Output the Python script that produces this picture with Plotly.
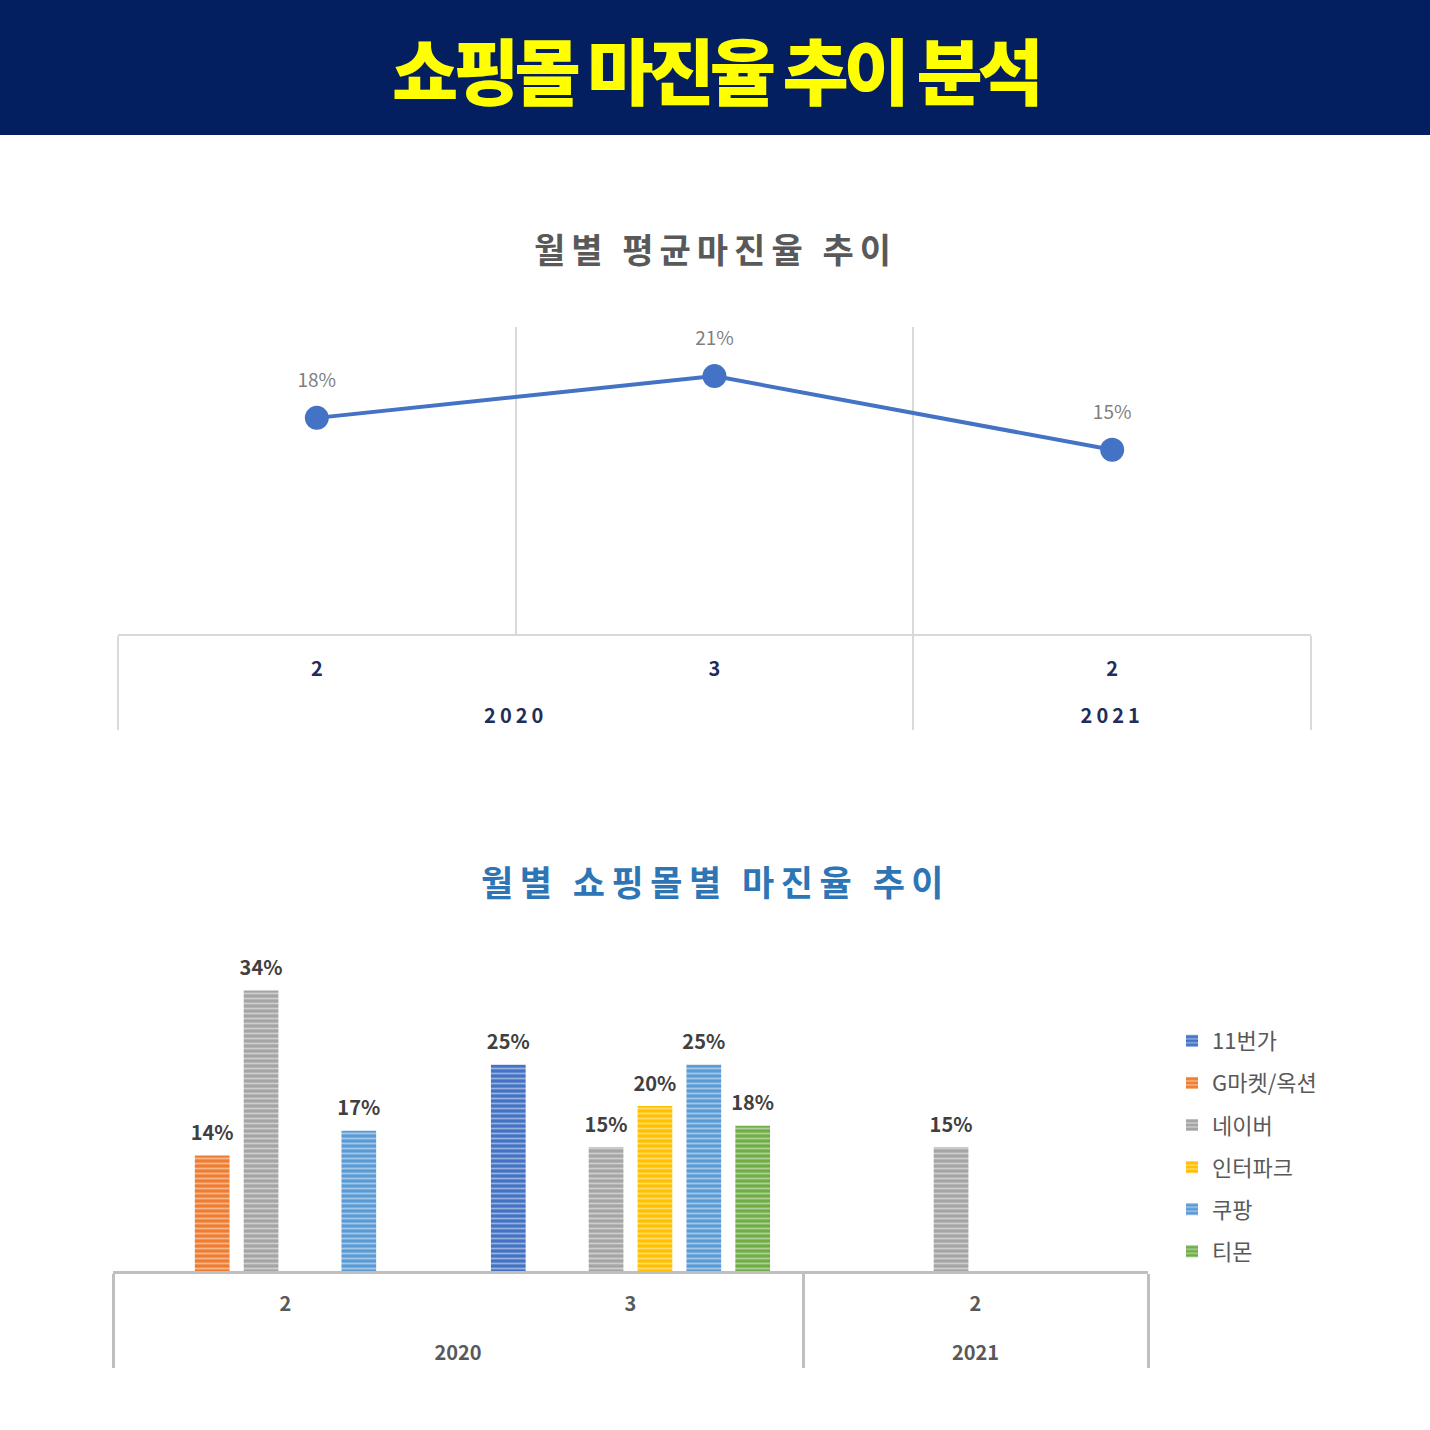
import plotly.graph_objects as go

# 데이터
years = ["2020", "2020", "2021"]
months = ["2", "3", "2"]
avg_margin = [0.176, 0.21, 0.15]

malls = ["11번가", "G마켓/옥션", "네이버", "인터파크", "쿠팡", "티몬"]
mall_margin = {
    "11번가": [None, 0.25, None],
    "G마켓/옥션": [0.14, None, None],
    "네이버": [0.34, 0.15, 0.15],
    "인터파크": [None, 0.20, None],
    "쿠팡": [0.17, 0.25, None],
    "티몬": [None, 0.176, None],
}
mall_colors = ["#4472C4", "#ED7D31", "#A5A5A5", "#FFC000", "#5B9BD5", "#70AD47"]

W = H = 1430
FONT = "Noto Sans CJK KR"


def px_y(p):
    return 1 - p / H


def spaced(s, px):
    return f"<span style='letter-spacing:{px}px'>{s}</span>"


def gap_line(s, px):
    # 두 단계 축 라벨 사이 간격용 빈 줄
    return f"{s}<br><span style='font-size:{px}px'> </span>"


x_top = [[spaced(y, 4) for y in years], [gap_line(m, 40) for m in months]]
x_bot = [years, [gap_line(m, 37) for m in months]]

fig = go.Figure()

# 위 차트 - 평균 마진율 꺾은선
fig.add_trace(go.Scatter(
    x=x_top, y=avg_margin,
    mode="lines+markers",
    line=dict(color="#4472C4", width=4),
    marker=dict(size=24, color="#4472C4"),
    showlegend=False, xaxis="x", yaxis="y",
))
# 라벨만 (투명 마커로 점 위 간격 확보)
fig.add_trace(go.Scatter(
    x=x_top, y=avg_margin,
    mode="markers+text",
    marker=dict(size=40, color="rgba(0,0,0,0)"),
    text=[f"{v:.0%}" for v in avg_margin],
    textposition="top center",
    textfont=dict(family=FONT, size=19, color="#7F7F7F"),
    showlegend=False, hoverinfo="skip", xaxis="x", yaxis="y",
))

# 아래 차트 - 쇼핑몰별 막대
for name, col in zip(malls, mall_colors):
    vals = mall_margin[name]
    fig.add_trace(go.Bar(
        x=x_bot, y=vals, name=name,
        marker=dict(color=col, line=dict(width=0),
                    pattern=dict(shape="-", fgcolor="white", fgopacity=0.45,
                                 size=5, solidity=0.35)),
        text=[f"<span style='font-size:20px'>{v:.0%}</span><br> " if v is not None else ""
              for v in vals],
        textposition="outside", constraintext="none",
        textfont=dict(family=FONT, size=8, color="#404040", weight="bold"),
        cliponaxis=False,
        legendgroup=name,
        xaxis="x2", yaxis="y2",
    ))

fig.update_layout(
    width=W, height=H,
    margin=dict(l=0, r=0, t=0, b=0),
    paper_bgcolor="white", plot_bgcolor="white",
    font=dict(family=FONT),
    barmode="group", bargap=0.15, bargroupgap=0.29,
    xaxis=dict(
        domain=[118 / W, 1311 / W], anchor="y",
        type="multicategory", range=[-0.5, 2.5],
        tickson="boundaries", showgrid=True, gridcolor="#D9D9D9", gridwidth=2,
        showline=True, linecolor="#D9D9D9", linewidth=2,
        ticks="", showdividers=True, dividercolor="#D9D9D9", dividerwidth=2,
        ticklabelstandoff=16,
        tickfont=dict(family=FONT, size=20, color="#1F2D5C", weight="bold"),
        zeroline=False,
    ),
    yaxis=dict(
        domain=[px_y(634), px_y(327)], anchor="x",
        range=[0, 0.25], visible=False,
    ),
    xaxis2=dict(
        domain=[113 / W, 1148 / W], anchor="y2",
        type="multicategory", range=[-0.5, 2.5],
        showgrid=False, showline=True, linecolor="#BFBFBF", linewidth=3,
        ticks="", showdividers=True, dividercolor="#BFBFBF", dividerwidth=3,
        ticklabelstandoff=13,
        tickfont=dict(family=FONT, size=20, color="#595959", weight="bold"),
    ),
    yaxis2=dict(
        domain=[px_y(1271), px_y(941)], anchor="x2",
        range=[0, 0.40], visible=False,
    ),
    legend=dict(
        x=1172 / W, y=px_y(1020), xanchor="left", yanchor="top",
        font=dict(family=FONT, size=22, color="#595959"),
        tracegroupgap=10.5, bgcolor="rgba(0,0,0,0)",
    ),
    shapes=[dict(type="rect", xref="paper", yref="paper",
                 x0=0, x1=1, y0=px_y(135), y1=1,
                 fillcolor="#031F5F", line=dict(width=0), layer="below")],
    annotations=[
        dict(text=spaced("쇼핑몰 마진율 추이 분석", -5), xref="paper", yref="paper",
             x=0.5, y=px_y(67), yanchor="middle", showarrow=False,
             font=dict(family=FONT, size=72, color="#FFFF00", weight=900)),
        dict(text=spaced("월별 평균마진율 추이", 6), xref="paper", yref="paper",
             x=0.5, y=px_y(249), yanchor="middle", showarrow=False,
             font=dict(family=FONT, size=34, color="#595959", weight="bold")),
        dict(text=spaced("월별 쇼핑몰별 마진율 추이", 6.5), xref="paper", yref="paper",
             x=0.5, y=px_y(880), yanchor="middle", showarrow=False,
             font=dict(family=FONT, size=35, color="#2E75B6", weight="bold")),
    ],
)

fig.write_html("out.html", config={"displayModeBar": False},
               post_script="document.body.style.margin='0';")
